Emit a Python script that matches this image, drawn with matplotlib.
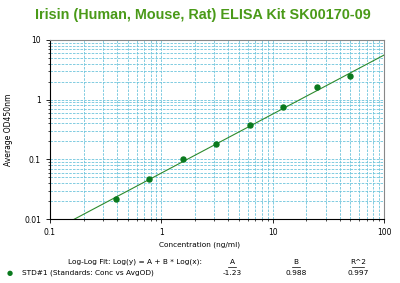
import matplotlib.pyplot as plt
import numpy as np

# Data
conc = np.array([0.390625, 0.78125, 1.5625, 3.125, 6.25, 12.5, 25, 50])
od = np.array([0.022, 0.047, 0.10, 0.18, 0.38, 0.75, 1.6, 2.5])
fit_A = -1.23
fit_B = 0.988
fit_R2 = 0.997

green = "#4a9a18"
dot = "#0a7a1e"

fig = plt.figure(figsize=(4, 2.83), dpi=100)
ax = fig.add_axes([0.125, 0.226, 0.835, 0.633])

# Fit line
xf = np.logspace(-1, 2, 200)
yf = 10 ** (fit_A + fit_B * np.log10(xf))
ax.plot(xf, yf, color="#2e8b2e", lw=0.8)
ax.scatter(conc, od, s=13, color=dot, zorder=3)

ax.set_xscale("log")
ax.set_yscale("log")
ax.set_xlim(0.1, 100)
ax.set_ylim(0.01, 10)
ax.set_xticks([0.1, 1, 10, 100])
ax.set_xticklabels(["0.1", "1", "10", "100"])
ax.set_yticks([0.01, 0.1, 1, 10])
ax.set_yticklabels(["0.01", "0.1", "1", "10"])
ax.tick_params(labelsize=5.5, length=3, width=0.6, which="major")
ax.tick_params(which="minor", length=1.5, width=0.5, labelleft=False, labelbottom=False)
ax.grid(True, which="both", color="#6cc4dc", ls=(0, (3, 1.5)), lw=0.6)
for s in ["top", "right"]:
    ax.spines[s].set_color("#888888")
for s in ["left", "bottom"]:
    ax.spines[s].set_color("black")
    ax.spines[s].set_linewidth(0.8)

ax.set_ylabel("Average OD450nm", fontsize=5.5, labelpad=8)

fig.text(0.508, 0.947, "Irisin (Human, Mouse, Rat) ELISA Kit SK00170-09",
         ha="center", va="center", fontsize=10.4, fontweight="bold", color=green,
         family="Liberation Sans")

fs = 5.3
fig.text(0.5, 0.135, "Concentration (ng/ml)", ha="center", va="center", fontsize=fs)
fig.text(0.505, 0.075, "Log-Log Fit: Log(y) = A + B * Log(x):", ha="right", va="center", fontsize=fs)
fig.text(0.58, 0.075, "A", ha="center", va="center", fontsize=fs)
fig.text(0.74, 0.075, "B", ha="center", va="center", fontsize=fs)
fig.text(0.895, 0.075, "R^2", ha="center", va="center", fontsize=fs)
for xx, w in [(0.58, 0.02), (0.74, 0.02), (0.895, 0.03)]:
    fig.lines.append(plt.Line2D([xx - w / 2, xx + w / 2], [0.058, 0.058],
                                transform=fig.transFigure, color="black", lw=0.5))
fig.text(0.025, 0.035, "\u25cf", color=dot, ha="center", va="center", fontsize=5)
fig.text(0.055, 0.035, "STD#1 (Standards: Conc vs AvgOD)", ha="left", va="center", fontsize=fs)
fig.text(0.58, 0.035, f"{fit_A:.2f}", ha="center", va="center", fontsize=fs)
fig.text(0.74, 0.035, f"{fit_B:.3f}", ha="center", va="center", fontsize=fs)
fig.text(0.895, 0.035, f"{fit_R2:.3f}", ha="center", va="center", fontsize=fs)

fig.savefig("out.png", dpi=100)
